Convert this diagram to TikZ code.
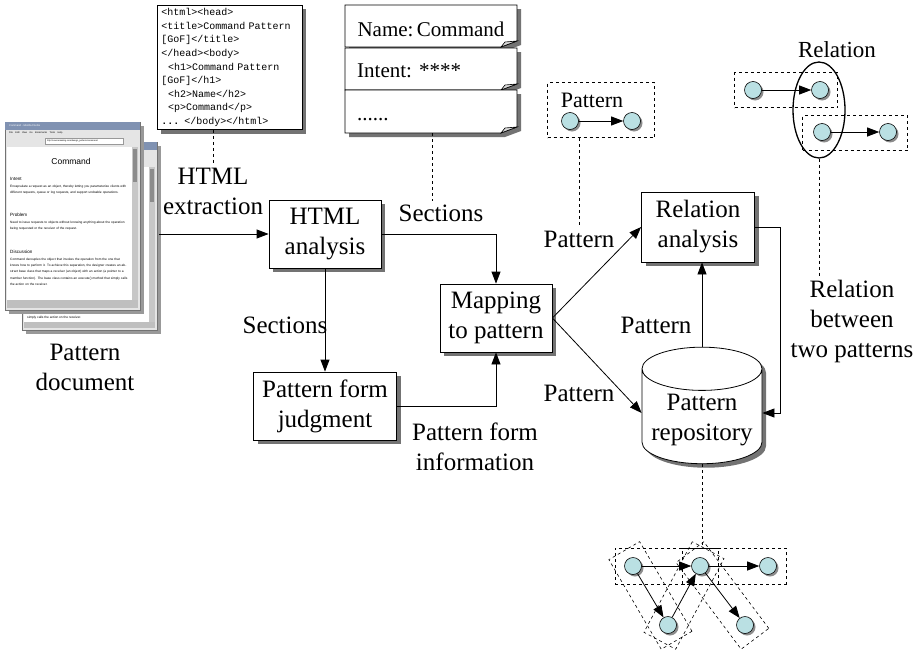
\documentclass[tikz,border=0pt]{standalone}
\usepackage{fontspec}
\setmainfont{Liberation Serif}
\setsansfont{Liberation Sans}
\setmonofont{Liberation Mono}
\usetikzlibrary{shapes.geometric,arrows.meta,shadows,fit,positioning,calc}

\definecolor{dotFill}{RGB}{186,224,227}
\definecolor{titleBar}{RGB}{128,146,178}

\newcommand{\intentText}{Encapsulate a request as an object, thereby letting you parameterize clients with different requests, queue or log requests, and support undoable operations.}
\newcommand{\problemText}{Need to issue requests to objects without knowing anything about the operation being requested or the receiver of the request.}
\newcommand{\discussionText}{Command decouples the object that invokes the operation from the one that knows how to perform it. To achieve this separation, the designer creates an abstract base class that maps a receiver (an object) with an action (a pointer to a member function). The base class contains an execute() method that simply calls the action on the receiver.}

\begin{document}
\begin{tikzpicture}[x=1pt, y=-1pt,
  font=\fontsize{25}{30}\selectfont,
  >={Triangle[length=12pt,width=9pt]},
  boxShadow/.style={drop shadow={shadow xshift=4pt, shadow yshift=-4pt, fill=black!55, opacity=1}},
  dotShadow/.style={drop shadow={shadow xshift=2pt, shadow yshift=-2pt, fill=black!45, opacity=1}},
  patternDot/.style={circle, draw, fill=dotFill, minimum size=17pt, inner sep=0pt, line width=0.6pt, dotShadow},
  dashBox/.style={draw, dashed, line width=0.6pt, inner sep=10pt},
  guide/.style={dashed, line width=0.6pt},
  pageHead/.style={anchor=west, inner sep=0pt, font=\sffamily\fontsize{4.6}{6}\selectfont},
  pagePara/.style={anchor=north west, inner sep=0pt, text width=118pt, align=left, font=\sffamily\fontsize{3.2}{6.2}\selectfont}
]
	\tikzstyle{stepBox} = [rectangle, draw, fill=white, line width=0.8pt, minimum height=68pt, minimum width=112pt, align=center, boxShadow]
	\tikzstyle{repoStore} = [cylinder, shape border rotate=90, aspect=0.4, draw, fill=white, line width=0.8pt, minimum width=120pt, minimum height=110pt, align=center, boxShadow]
	\tikzstyle{codeBox} = [rectangle, draw, fill=white, line width=0.8pt, align=left, text width=137pt, inner xsep=4pt, inner ysep=3pt, font=\ttfamily\fontsize{10}{13.6}\selectfont, boxShadow]
	\tikzstyle{flow} = [->, line width=0.8pt]

	\useasboundingbox (0,0) rectangle (920,653);

	% the page behind: only its right and bottom edges show
	\begin{scope}[shift={(22,142)}]
		\fill[black!40] (4,4) rectangle (139,192);
		\draw[black!55, fill=black!10, line width=0.4pt] (0,0) rectangle (135,188);
		\fill[titleBar] (0,0) rectangle (135,8);
		\draw[black!40, fill=white, line width=0.3pt] (40,16) rectangle (118,22);
		\fill[white] (2,25) rectangle (127,180);
		\fill[black!22] (127,25) rectangle (133,180);
		\fill[black!45] (128,27) rectangle (132,60);
		\fill[black!25] (2,180) rectangle (133,186);
		\node[anchor=west, inner sep=0pt, font=\sffamily\fontsize{3.2}{6.2}\selectfont] (backLastLine) at (5,176) {simply calls the action on the receiver.};
	\end{scope}

	% the page in front
	\begin{scope}[shift={(5,122)}]
		\fill[black!40] (4,4) rectangle (139,192);
		\draw[black!55, fill=black!10, line width=0.4pt] (0,0) rectangle (135,188);
		\fill[titleBar] (0,0) rectangle (135,8);
		\node[anchor=west, text=white, inner sep=1pt, font=\sffamily\fontsize{2.6}{3}\selectfont] (frontTitle) at (3,4) {Command - Mozilla Firefox};
		\node[anchor=west, inner sep=1pt, font=\sffamily\fontsize{2.4}{3}\selectfont] (frontMenu) at (3,11) {File\quad Edit\quad View\quad Go\quad Bookmarks\quad Tools\quad Help};
		\draw[black!40, fill=white, line width=0.3pt] (40,16) rectangle (118,22);
		\node[anchor=west, inner sep=1pt, font=\sffamily\fontsize{2.2}{3}\selectfont] (frontUrl) at (41,19) {http://sourcemaking.com/design\_patterns/command};
		\fill[white] (2,25) rectangle (127,178);
		\fill[black!22] (127,25) rectangle (133,178);
		\fill[black!45] (128,27) rectangle (132,60);
		\fill[black!25] (2,178) rectangle (133,186);
		\begin{scope}
			\clip (2,25) rectangle (127,178);
			\node[inner sep=0pt, font=\sffamily\fontsize{8.5}{10}\selectfont] (frontHead) at (66,39) {Command};
			\node[pageHead] (frontIntent) at (5,57) {Intent};
			\node[pagePara] (frontIntentText) at (5,63) {\intentText};
			\node[pageHead] (frontProblem) at (5,93) {Problem};
			\node[pagePara] (frontProblemText) at (5,99) {\problemText};
			\node[pageHead] (frontDiscussion) at (5,130) {Discussion};
			\node[pagePara] (frontDiscussionText) at (5,136) {\discussionText};
		\end{scope}
	\end{scope}
	\node[fit={(5,122) (159,334)}, inner sep=0pt] (patternDoc) {};
	\node[align=center] (docLabel) at (85,367) {Pattern\\document};

	% extracted html source
	\node[codeBox, anchor=north west] (htmlCode) at (157,5) {%
		<html><head>\\
		<title>Command Pattern\\{}%
		[GoF]</title>\\
		</head><body>\\
		\ \ <h1>Command Pattern\\{}%
		[GoF]</h1>\\
		\ \ <h2>Name</h2>\\
		\ \ <p>Command</p>\\
		\textbf{...} </body></html>};

	% section sheets
	\foreach \t/\b in {5/47, 48/90, 90/133}{
		\draw[fill=white, line width=0.8pt, boxShadow] (345,\t) -- (517,\t) -- (517,\b-6) -- (501,\b) -- (345,\b) -- cycle;
		\draw[fill=black!15, line width=0.6pt] (517,\b-6) -- (505,\b-5) -- (501,\b) -- cycle;
	}
	\node[anchor=base, font=\fontsize{21}{25}\selectfont] (nameField) at (431,36) {Name:\,Command};
	\node[anchor=base west, font=\fontsize{21}{25}\selectfont, inner sep=0pt] (intentField) at (357,77) {Intent: ****};
	\node[anchor=base west, font=\fontsize{21}{25}\selectfont, inner sep=0pt] (moreField) at (357,120) {......};
	\coordinate (sectionsDoc) at (432,133);

	% process steps
	\node[stepBox] (htmlAnalysis) at (325,234) {HTML\\analysis};
	\node[stepBox] (mapping) at (496,318) {Mapping\\to pattern};
	\node[stepBox, minimum width=143pt] (formJudgment) at (325,406) {Pattern form\\judgment};
	\node[stepBox, minimum width=113pt, minimum height=70pt] (relationAnalysis) at (698,227) {Relation\\analysis};
	\node[repoStore] (repository) at (702,420) {Pattern\\repository};

	% labels on the flows
	\node[align=center] (extractLabel) at (213,191) {HTML\\extraction};
	\node (sectionsLabel) at (441,213) {Sections};
	\node (sectionsLabelTwo) at (285,325) {Sections};
	\node[align=center] (formInfoLabel) at (475,447) {Pattern form\\information};
	\node (patLabelUp) at (579,239) {Pattern};
	\node (patLabelDown) at (579,393) {Pattern};
	\node (patLabelMid) at (656,325) {Pattern};
	\node[align=center] (relBetween) at (852,321) {Relation\\between\\two patterns};

	% flows
	\draw[flow] (patternDoc.east |- htmlAnalysis.west) -- (htmlAnalysis.west);
	\draw[flow] (htmlAnalysis.east) -| (mapping.north);
	\draw[flow] (htmlAnalysis.south) -- (formJudgment.north);
	\draw[flow] (formJudgment.east) -| (mapping.south);
	\draw[flow] (mapping.east) -- (relationAnalysis.west);
	\draw[flow] (mapping.east) -- ([yshift=7pt]repository.west);
	\draw[flow] (repository.north) -- (repository.north |- relationAnalysis.south);
	\draw[flow] (relationAnalysis.east) -- ++(25,0) |- ([yshift=7pt]repository.east);

	% single pattern
	\node[font=\fontsize{22}{26}\selectfont] (patTitle) at (592,100) {Pattern};
	\node[patternDot] (patA) at (570,121) {};
	\node[patternDot] (patB) at (632,121) {};
	\draw[flow] (patA) -- (patB);
	\node[draw, dashed, line width=0.6pt, minimum width=107pt, minimum height=55pt] (patternBox) at (601,110) {};

	% relation between two patterns
	\node[font=\fontsize{23}{28}\selectfont] (relTitle) at (837,50) {Relation};
	\node[patternDot] (relA) at (753,90) {};
	\node[patternDot] (relB) at (820,90) {};
	\node[patternDot] (relC) at (822,132) {};
	\node[patternDot] (relD) at (888,132) {};
	\draw[flow] (relA) -- (relB);
	\draw[flow] (relC) -- (relD);
	\node[draw, dashed, line width=0.6pt, minimum width=103pt, minimum height=35pt] (relBoxOne) at (786,90) {};
	\node[draw, dashed, line width=0.6pt, minimum width=105pt, minimum height=35pt] (relBoxTwo) at (855,133) {};
	\node[ellipse, draw, line width=1.3pt, minimum width=52pt, minimum height=96pt] (relEllipse) at (819,110) {};

	% patterns kept in the repository
	\node[patternDot] (cA) at (633,566) {};
	\node[patternDot] (cB) at (700,566) {};
	\node[patternDot] (cC) at (768,566) {};
	\node[patternDot] (cD) at (668,625) {};
	\node[patternDot] (cE) at (745,625) {};
	\draw[flow] (cA) -- (cB);
	\draw[flow] (cB) -- (cC);
	\draw[flow] (cA) -- (cD);
	\draw[flow] (cD) -- (cB);
	\draw[flow] (cB) -- (cE);
	\node[dashBox, inner sep=9pt, fit=(cA) (cB)] (groupAB) {};
	\node[dashBox, inner sep=9pt, fit=(cB) (cC)] (groupBC) {};
	\node[dashBox, rotate fit=-59.7, fit=(cA) (cD)] (groupAD) {};
	\node[dashBox, rotate fit=61.9, fit=(cD) (cB)] (groupDB) {};
	\node[dashBox, rotate fit=-53.1, fit=(cB) (cE)] (groupBE) {};
	\coordinate (clusterTop) at (702,546);

	% dashed leaders
	\draw[guide] (htmlCode.south -| extractLabel.north) -- (extractLabel.north);
	\draw[guide] (sectionsDoc) -- (sectionsDoc |- sectionsLabel.north);
	\draw[guide] (patternBox.south -| patLabelUp) -- (patLabelUp.north);
	\draw[guide] (relEllipse.south) -- (relEllipse.south |- relBetween.north);
	\draw[guide] (repository.south) -- (clusterTop);
\end{tikzpicture}
\end{document}
